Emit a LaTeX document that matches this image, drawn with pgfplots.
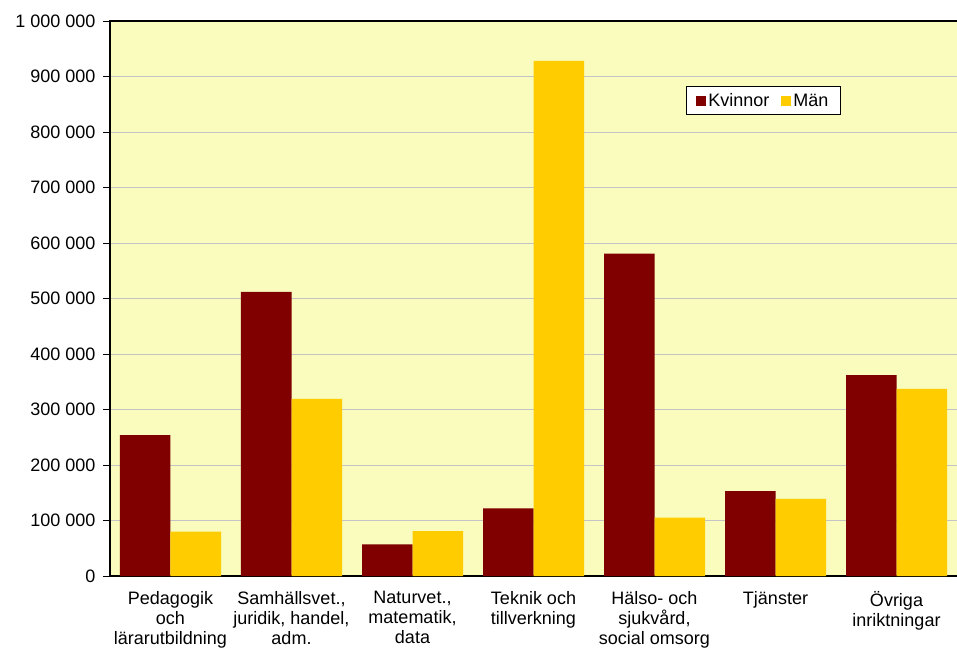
\documentclass[border=0pt]{standalone}
\usepackage{fontspec}
\setmainfont{Liberation Sans}
\usepackage{pgfplots}
\pgfplotsset{compat=1.18}
\definecolor{kv}{RGB}{128,0,0}
\definecolor{man}{RGB}{255,204,0}
\definecolor{bg}{RGB}{249,252,188}
\definecolor{gridc}{RGB}{196,196,196}
\begin{document}
\begin{tikzpicture}
\begin{axis}[
  scale only axis, width=850pt, height=555pt,
  ybar=0pt, bar width=50.5pt,
  xmin=-0.5, xmax=6.5248, ymin=0, ymax=1000000,
  xtick=data,
  xticklabels={{Pedagogik\\och\\lärarutbildning},{Samhällsvet.,\\juridik, handel,\\adm.},{Naturvet.,\\matematik,\\data},{Teknik och\\tillverkning},{Hälso- och\\sjukvård,\\social omsorg},{Tjänster},{Övriga\\inriktningar}},
  xticklabel style={align=center, font=\fontsize{18}{19.8}\selectfont, yshift=-5pt},
  xtick style={draw=none},
  ytick={0,100000,200000,300000,400000,500000,600000,700000,800000,900000,1000000},
  scaled y ticks=false,
  yticklabel style={font=\fontsize{18}{21}\selectfont, xshift=-4pt, /pgf/number format/.cd, fixed, 1000 sep={\ }, assume math mode=true},
  tick align=outside, major tick length=7pt,
  ytick style={black, line width=0.8pt},
  ymajorgrids, grid style={draw=gridc, line width=0.9pt},
  axis line style={black, line width=1.2pt},
  axis background/.style={fill=bg},
  legend style={at={(0.6775,0.883)}, anchor=north west, legend columns=2, draw=black, line width=0.8pt, fill=white, font=\fontsize{18}{21}\selectfont, inner xsep=10pt, inner ysep=5pt, /tikz/every even column/.append style={column sep=10pt}},
  legend image code/.code={\fill[#1] (0pt,-5pt) rectangle (10pt,5pt);},
]
\addplot[fill=kv, draw=none] coordinates {(0,254000) (1,512000) (2,57000) (3,122000) (4,581000) (5,153000) (6,362000)};
\addplot[fill=man, draw=none] coordinates {(0,80000) (1,319000) (2,81000) (3,928000) (4,105000) (5,139000) (6,337000)};
\legend{Kvinnor,Män}
\end{axis}
\pgfresetboundingbox
\useasboundingbox (-110pt,-74pt) rectangle (847pt,576pt);
\end{tikzpicture}
\end{document}
